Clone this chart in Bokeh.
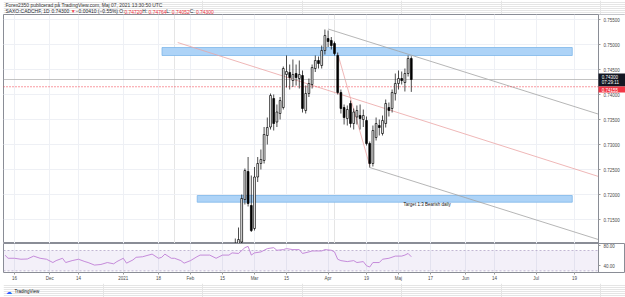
import pandas as pd
from bokeh.plotting import figure
from bokeh.layouts import column
from bokeh.models import (Range1d, FixedTicker, NumeralTickFormatter, Label, LinearAxis,
                          Grid, BoxAnnotation, ColumnDataSource)
from bokeh.embed import file_html
from bokeh.resources import INLINE

# ---------------- data ----------------
calendar = pd.bdate_range("2020-11-16", "2021-09-30")   # daily FX bars (weekdays)

tick_dates = ["2020-11-16", "2020-12-01", "2020-12-14", "2021-01-01", "2021-01-18",
              "2021-02-01", "2021-02-15", "2021-03-01", "2021-03-15", "2021-04-01",
              "2021-04-19", "2021-05-03", "2021-05-17", "2021-06-01", "2021-06-14",
              "2021-07-01", "2021-07-19"]
tick_labels = ["16", "Dec", "14", "2021", "18", "Feb", "15", "Mar", "15", "Apr",
               "19", "Maj", "17", "Jun", "14", "Jul", "19"]
price_ticks = [0.715, 0.720, 0.725, 0.730, 0.735, 0.740, 0.745, 0.750, 0.755]
rsi_ticks = [40, 80]

candle_start = "2021-02-19"
opens = [0.7085, 0.7098, 0.7105, 0.7190, 0.7246, 0.7178, 0.7132, 0.7235, 0.7262, 0.7268,
         0.7318, 0.7335, 0.7392, 0.7345, 0.7362, 0.7374, 0.7440, 0.7444, 0.7428, 0.7442,
         0.7432, 0.7438, 0.7368, 0.7402, 0.7420, 0.7452, 0.7468, 0.7458, 0.7488, 0.7512,
         0.7508, 0.7502, 0.7478, 0.7404, 0.7374, 0.7352, 0.7382, 0.7342, 0.7355, 0.7358,
         0.7350, 0.7348, 0.7302, 0.7262, 0.7314, 0.7338, 0.7322, 0.7342, 0.7374, 0.7372,
         0.7402, 0.7422, 0.7432, 0.7424, 0.7442, 0.74720]
highs = [0.7112, 0.7134, 0.7200, 0.7252, 0.7275, 0.7238, 0.7255, 0.7275, 0.7290, 0.7335,
         0.7354, 0.7402, 0.7400, 0.7380, 0.7395, 0.7456, 0.7478, 0.7460, 0.7470, 0.7460,
         0.7468, 0.7448, 0.7418, 0.7432, 0.7460, 0.7478, 0.7476, 0.7498, 0.7530, 0.7528,
         0.7515, 0.7506, 0.7484, 0.7410, 0.7380, 0.7378, 0.7388, 0.7372, 0.7378, 0.7380,
         0.7370, 0.7356, 0.7306, 0.7338, 0.7354, 0.7350, 0.7358, 0.7390, 0.7384, 0.7410,
         0.7442, 0.7448, 0.7446, 0.7452, 0.7478, 0.74764]
lows = [0.7070, 0.7085, 0.7098, 0.7180, 0.7176, 0.7125, 0.7128, 0.7225, 0.7250, 0.7262,
        0.7300, 0.7330, 0.7328, 0.7335, 0.7350, 0.7370, 0.7414, 0.7410, 0.7415, 0.7418,
        0.7412, 0.7364, 0.7362, 0.7395, 0.7412, 0.7445, 0.7452, 0.7452, 0.7480, 0.7495,
        0.7490, 0.7478, 0.7400, 0.7362, 0.7340, 0.7338, 0.7334, 0.7330, 0.7340, 0.7330,
        0.7335, 0.7298, 0.7254, 0.7256, 0.7308, 0.7318, 0.7318, 0.7334, 0.7356, 0.7364,
        0.7388, 0.7410, 0.7420, 0.7406, 0.7436, 0.74052]
closes = [0.7100, 0.7110, 0.7192, 0.7248, 0.7182, 0.7128, 0.7235, 0.7262, 0.7270, 0.7320,
          0.7334, 0.7398, 0.7342, 0.7365, 0.7388, 0.7452, 0.7446, 0.7434, 0.7440, 0.7434,
          0.7440, 0.7372, 0.7402, 0.7422, 0.7454, 0.7468, 0.7462, 0.7488, 0.7518, 0.7506,
          0.7498, 0.7482, 0.7404, 0.7372, 0.7354, 0.7370, 0.7342, 0.7365, 0.7368, 0.7352,
          0.7358, 0.7302, 0.7262, 0.7328, 0.7342, 0.7334, 0.7348, 0.7382, 0.7368, 0.7404,
          0.7422, 0.7432, 0.7428, 0.7442, 0.7472, 0.74300]

last_price = 0.74300
marked_price = 0.74155
countdown = "07:29:11"
change_text = "−0.00410 (−0.55%)"

# RSI(14) readings (bar index, value)
rsi_bars = [-3, -2, 0, 2, 4, 6, 8, 10, 12, 13, 15, 16, 18, 20, 22, 23, 25, 27, 29, 31,
            32, 34, 35, 37, 38, 40, 43, 45, 46, 47, 49, 50, 52, 53, 55, 57, 58, 61, 63, 65,
            67, 68, 70, 72, 73, 74, 75, 77, 79, 81, 82, 84, 85, 87, 89, 90, 92, 93, 96, 97,
            99, 100, 101, 102, 104, 106, 107, 109, 110, 111, 112, 114, 115, 117, 119, 121,
            122, 123, 124]
rsi_values = [61.0, 54.7, 54.7, 52.8, 53.3, 59.0, 54.7, 52.8, 46.3, 50.1, 54.7, 46.3, 50.1,
              52.8, 48.2, 46.3, 41.3, 42.5, 46.3, 43.8, 48.2, 54.7, 45.1, 51.4, 56.6, 57.7,
              62.9, 54.7, 56.6, 62.9, 54.7, 54.7, 50.1, 45.1, 50.1, 57.7, 61.0, 61.0, 54.7,
              61.0, 61.0, 65.3, 64.2, 75.6, 78.1, 61.0, 65.3, 67.2, 73.7, 75.6, 70.5, 71.8,
              73.7, 71.8, 71.8, 64.2, 67.2, 69.1, 69.1, 71.8, 70.5, 67.2, 52.8, 50.1, 48.2,
              50.1, 46.3, 48.2, 40.0, 37.5, 46.3, 46.3, 52.8, 54.7, 59.0, 59.0, 61.0, 64.2,
              57.7]
rsi_upper, rsi_lower = 70, 30

# drawings: zones (bar from, bar to, price low, price high)
resistance_zone = [46.1, 174.3, 0.7478, 0.7494]
target_zone = [57.1, 174.3, 0.71846, 0.7198]
target_text = "Target 1:3 Bearish daily"
target_anchor = (121.6, 0.7180)
# trend lines: (bar, price) anchors
channel_top = [(98, 0.7531), (124, 0.74786)]
channel_bottom_start = (111, 0.7254)
channel_mid = [(51, 0.7504), (182.5, 0.7236)]
swing_leg = [(101, 0.7482), (111, 0.7258)]

# ---------------- geometry ----------------
PX_PER_BAR = 3.2
X0 = (3 - 14) / PX_PER_BAR              # frame starts at x=3, first tick bar at x=14
X1 = X0 + 622 / PX_PER_BAR              # frame runs to the right edge
SCALE_X = (598 - 14) / PX_PER_BAR       # where the price scale begins
Y0, Y1 = 0.7102, 0.7560
R0, R1 = 26.7, 83.8
MAIN_H, RSI_H = 229, 30
HEAD_FS = 4.95


def price_at(py):
    """price for a pixel row of the main panel (rows counted from the page top)"""
    return Y1 - (py - 14) / MAIN_H * (Y1 - Y0)


tick_bars = [calendar.get_loc(pd.Timestamp(d)) for d in tick_dates]
first = calendar.get_loc(pd.Timestamp(candle_start))
bars = [first + i for i in range(len(opens))]
src = ColumnDataSource(dict(
    x=bars, l=lows, h=highs,
    top=[max(o, c) for o, c in zip(opens, closes)],
    bot=[min(o, c) for o, c in zip(opens, closes)],
    fill=["#ffffff" if c >= o else "#000000" for o, c in zip(opens, closes)],
))

FONT = "Liberation Sans"
GRID = "#eef0f5"
FRAME = "#8a8d96"
TXT = "#4a4a4a"


def style_scale(axis, ticks, fmt):
    axis.ticker = FixedTicker(ticks=ticks)
    axis.formatter = NumeralTickFormatter(format=fmt)
    axis.major_label_text_font_size = "4.5px"
    axis.major_label_text_font = FONT
    axis.major_label_text_color = TXT
    axis.axis_line_color = FRAME
    axis.major_tick_out = 2
    axis.major_tick_in = 0
    axis.major_tick_line_color = "#9a9a9a"
    axis.minor_tick_line_color = None
    axis.major_label_standoff = 3


# ---------------- header ----------------
head = figure(width=625, height=14, x_range=Range1d(0, 625), y_range=Range1d(14, 0),
              output_backend="svg", toolbar_location=None, x_axis_location=None,
              y_axis_location=None, min_border=0)
head.outline_line_color = None
head.add_layout(Label(x=2, y=4.5, text="Forex2350 publicerad på TradingView.com, Maj 07, 2021 13:30:50 UTC",
                      text_align="left", text_baseline="middle", text_font=FONT,
                      text_font_size=f"{HEAD_FS}px", text_color="#3a3a3a"))
WIDTHS = {**{d: 0.556 for d in "0123456789"}, ".": 0.278, ":": 0.278, ",": 0.278, " ": 0.278,
          "(": 0.333, ")": 0.333, "%": 0.889, "−": 0.584, "▼": 0.75, "S": 0.667, "A": 0.667,
          "X": 0.667, "O": 0.778, "C": 0.722, "D": 0.722, "H": 0.722, "F": 0.611, "L": 0.556}
DARK, RED = "#2a2e39", "#f23645"
segments = [("SAXO:CADCHF, 1D ", DARK), (f"{closes[-1]:.5f} ", DARK), ("▼ ", RED),
            (change_text + " O:", DARK), (f"{opens[-1]:.5f}", RED), (" H:", DARK),
            (f"{highs[-1]:.5f}", RED), (" L:", DARK), (f"{lows[-1]:.5f}", RED), (" C:", DARK),
            (f"{closes[-1]:.5f}", RED)]
cx = 2.0
for txt, col in segments:
    head.add_layout(Label(x=cx, y=11, text=txt, text_align="left", text_baseline="middle",
                          text_font=FONT, text_font_size=f"{HEAD_FS}px", text_color=col))
    cx += sum(WIDTHS.get(ch, 0.56) for ch in txt) * HEAD_FS

# ---------------- main price panel ----------------
p = figure(width=625, height=MAIN_H, x_range=Range1d(X0, X1), y_range=Range1d(Y0, Y1),
           output_backend="svg", toolbar_location=None, x_axis_location=None,
           y_axis_location=None, min_border_left=3, min_border_right=0,
           min_border_top=0, min_border_bottom=0)
p.outline_line_color = FRAME
p.add_layout(Grid(dimension=0, ticker=FixedTicker(ticks=tick_bars), grid_line_color=GRID))
p.add_layout(Grid(dimension=1, ticker=FixedTicker(ticks=price_ticks), grid_line_color=GRID))

# zones
for b0, b1, lo, hi in (resistance_zone, target_zone):
    p.quad(left=b0, right=b1, bottom=lo, top=hi, fill_color="#add3f7",
           line_color="#7db6ea", line_width=0.8)
p.add_layout(Label(x=target_anchor[0], y=target_anchor[1], text=target_text,
                   text_align="left", text_baseline="middle", text_font=FONT,
                   text_font_size="4.5px", text_color="#111111"))

# trend lines
k = (channel_top[1][1] - channel_top[0][1]) / (channel_top[1][0] - channel_top[0][0])
(tx, ty) = channel_top[0]
p.line([tx, X1], [ty, ty + k * (X1 - tx)], line_color="#a3a3a3", line_width=0.8)
(bx, by) = channel_bottom_start
p.line([bx, X1], [by, by + k * (X1 - bx)], line_color="#a3a3a3", line_width=0.8)
(m0, m1) = channel_mid
km = (m1[1] - m0[1]) / (m1[0] - m0[0])
p.line([m0[0], X1], [m0[1], m0[1] + km * (X1 - m0[0])], line_color="#eba5a5", line_width=0.8)
p.line([q[0] for q in swing_leg], [q[1] for q in swing_leg], line_color="#eba5a5", line_width=0.8)

# price lines
p.line([X0, SCALE_X], [last_price, last_price], line_color="#b4b4b4", line_width=0.8)
p.line([X0, SCALE_X], [marked_price, marked_price], line_color="#f23645",
       line_width=1, line_dash="1 2")

# candles
p.segment(x0="x", x1="x", y0="l", y1="h", source=src, line_color="#000000", line_width=0.7)
p.vbar(x="x", width=0.56, top="top", bottom="bot", source=src, fill_color="fill",
       line_color="#000000", line_width=0.7)

# price scale area
p.quad(left=SCALE_X, right=X1 + 1, bottom=Y0 - 1, top=Y1 + 1, fill_color="#ffffff", line_color=None)
price_axis = LinearAxis(fixed_location=SCALE_X)
style_scale(price_axis, price_ticks, "0.00000")
p.add_layout(price_axis, "right")

p.add_layout(BoxAnnotation(left=SCALE_X, right=X1, top=price_at(73), bottom=price_at(86),
                           fill_color="#131722", fill_alpha=1, line_color=None))
p.add_layout(BoxAnnotation(left=SCALE_X, right=X1, top=price_at(86), bottom=price_at(92),
                           fill_color="#f23645", fill_alpha=1, line_color=None))
for txt, row in ((f"{last_price:.5f}", 76.5), (countdown, 82.2), (f"{marked_price:.5f}", 89)):
    p.add_layout(Label(x=SCALE_X + 1.0, y=price_at(row), text=txt, text_align="left",
                       text_baseline="middle", text_font=FONT, text_font_size="4.5px",
                       text_color="#ffffff"))

# ---------------- RSI panel ----------------
r = figure(width=625, height=RSI_H + 10, x_range=p.x_range, y_range=Range1d(R0, R1),
           output_backend="svg", toolbar_location=None, y_axis_location=None,
           x_axis_location="below", min_border_left=3, min_border_right=0,
           min_border_top=0, min_border_bottom=10)
r.outline_line_color = FRAME
r.ygrid.grid_line_color = None
r.xgrid.ticker = FixedTicker(ticks=tick_bars)
r.xgrid.grid_line_color = GRID
r.add_layout(BoxAnnotation(left=X0, right=SCALE_X, bottom=rsi_lower, top=rsi_upper,
                           fill_color="#7e57c2", fill_alpha=0.09, line_color=None,
                           level="underlay"))
for lvl in (rsi_upper, rsi_lower):
    r.line([X0, SCALE_X], [lvl, lvl], line_color="#b3a5c8", line_width=0.8, line_dash="2 2")
r.line(rsi_bars, rsi_values, line_color="#c07fd6", line_width=0.9)

xa = r.xaxis[0]
xa.ticker = FixedTicker(ticks=tick_bars)
xa.major_label_overrides = {b: t for b, t in zip(tick_bars, tick_labels)}
xa.major_label_text_font_size = "4.5px"
xa.major_label_text_font = FONT
xa.major_label_text_color = TXT
xa.axis_line_color = None
xa.major_tick_out = 2
xa.major_tick_in = 0
xa.major_tick_line_color = "#9a9a9a"
xa.minor_tick_line_color = None
xa.major_label_standoff = 1

rsi_axis = LinearAxis(fixed_location=SCALE_X)
style_scale(rsi_axis, rsi_ticks, "0.00")
r.add_layout(rsi_axis, "right")

# ---------------- footer ----------------
foot = figure(width=625, height=297 - 14 - MAIN_H - RSI_H - 10, x_range=Range1d(0, 625),
              y_range=Range1d(14, 0), output_backend="svg", toolbar_location=None,
              x_axis_location=None, y_axis_location=None, min_border=0)
foot.outline_line_color = None
foot.add_layout(Label(x=3, y=8, text="☁", text_align="left", text_baseline="middle",
                      text_font_size="6px", text_color="#2962ff"))
foot.add_layout(Label(x=11, y=8, text="TradingView", text_align="left", text_baseline="middle",
                      text_font=FONT, text_font_size="4.5px", text_color="#131722"))

layout = column(head, p, r, foot, spacing=0)
open("out.html", "w").write(file_html(layout, INLINE))
